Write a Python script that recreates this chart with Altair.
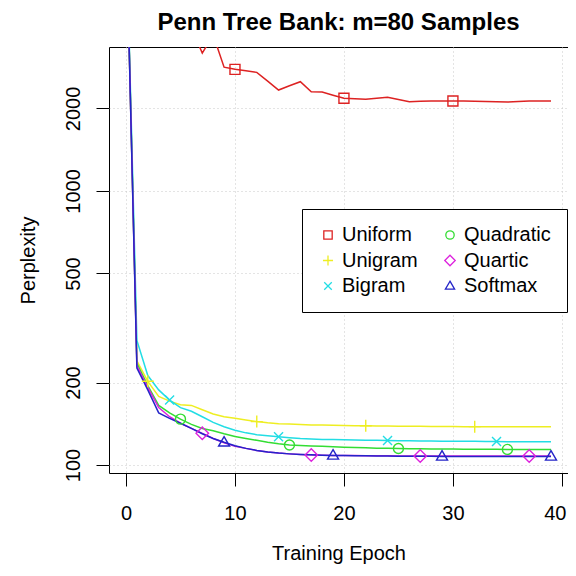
import altair as alt
import pandas as pd

# ---------------- data ----------------
epochs = list(range(40))

uniform = [10000, 6000, 5000, 4600, 4300, 4100, 3930, 3186, 3706, 2830,
           2778, 2745, 2709, 2517, 2335, 2420, 2504, 2302, 2295, 2235,
           2178, 2170, 2163, 2180, 2196, 2155, 2117, 2125, 2130, 2130,
           2130, 2128, 2125, 2120, 2115, 2110, 2120, 2130, 2130, 2130]
unigram = [10000, 240, 202, 178, 171, 166, 165, 159, 153.5, 150,
           148, 146, 144, 142.5, 141.5, 141, 140.5, 140, 140, 139.8,
           139.5, 139.2, 139, 138.8, 138.7, 138.6, 138.5, 138.4, 138.3, 138.2,
           138.1, 138, 138, 138, 138, 138, 138, 138, 138, 138]
bigram = [10000, 285, 212, 188, 172.6, 162, 157, 150, 143, 138,
          134, 131, 129, 127.8, 126.8, 125.8, 125, 124.5, 124, 123.8,
          123.6, 123.4, 123.2, 123, 122.8, 122.6, 122.5, 122.4, 122.3, 122.2,
          122.1, 122, 122, 121.9, 121.8, 121.7, 121.7, 121.6, 121.6, 121.6]
quadratic = [10000, 235, 195, 165, 155, 147, 140.7, 136, 133.4, 130,
             127, 125, 123, 121, 119.5, 118.3, 117.8, 117.3, 117, 116.6,
             116.2, 115.8, 115.5, 115.2, 115, 114.8, 114.7, 114.6, 114.5, 114.4,
             114.3, 114.2, 114.2, 114.1, 114.1, 114, 114, 114, 114, 114]
quartic = [10000, 230, 192, 162, 150, 142, 136, 130.5, 125, 120.5,
           117, 115, 113, 111.5, 110.5, 109.8, 109.2, 108.8, 108.6, 108.4,
           108.3, 108.2, 108.1, 108, 108, 107.9, 107.9, 107.8, 107.8, 107.8,
           107.8, 107.8, 107.8, 107.8, 107.8, 107.8, 107.8, 107.8, 107.8, 107.8]
softmax = [10000, 226, 188, 155, 148, 142, 136, 130, 125, 121,
           117.5, 115, 113, 111.5, 110.5, 109.8, 109.3, 108.9, 108.6, 108.4,
           108.2, 108.1, 108, 107.9, 107.8, 107.7, 107.7, 107.6, 107.6, 107.5,
           107.5, 107.5, 107.5, 107.5, 107.5, 107.5, 107.5, 107.5, 107.5, 107.5]

series_names = ["Uniform", "Unigram", "Bigram", "Quadratic", "Quartic", "Softmax"]
series_values = [uniform, unigram, bigram, quadratic, quartic, softmax]
series_colors = ["#DD2222", "#EEEE22", "#22DDE4", "#33DD33", "#DD22DD", "#2424C8"]
series_shapes = [
    "M-1,-1H1V1H-1Z",                 # square
    "M-1.2,0H1.2M0,-1.2V1.2",         # plus
    "M-0.9,-0.9L0.9,0.9M-0.9,0.9L0.9,-0.9",  # x
    "circle",                         # circle
    "M0,-1.25L1.25,0L0,1.25L-1.25,0Z",  # diamond
    "M0,-1.15L1.1,0.75H-1.1Z",        # triangle
]
marker_epochs = [
    [0, 10, 20, 30],
    [2, 12, 22, 32],
    [4, 14, 24, 34],
    [5, 15, 25, 35],
    [7, 17, 27, 37],
    [9, 19, 29, 39],
]
# legend is filled column by column: Uniform/Unigram/Bigram, then Quadratic/Quartic/Softmax
legend_order = ["Uniform", "Unigram", "Bigram", "Quadratic", "Quartic", "Softmax"]
line_order = ["Softmax", "Quartic", "Quadratic", "Bigram", "Unigram", "Uniform"]

x_ticks = [0, 10, 20, 30, 40]
y_ticks = [100, 200, 500, 1000, 2000]

# ---------------- tables ----------------
rows = []
pts = []
for name, vals, mk in zip(series_names, series_values, marker_epochs):
    for e, v in zip(epochs, vals):
        rows.append({"series": name, "epoch": e, "perplexity": v})
        if e in mk:
            pts.append({"series": name, "epoch": e, "perplexity": v})
df = pd.DataFrame(rows)
df_pts = pd.DataFrame(pts)

color_map = dict(zip(series_names, series_colors))
shape_map = dict(zip(series_names, series_shapes))
cscale = alt.Scale(domain=legend_order, range=[color_map[n] for n in legend_order])
sscale = alt.Scale(domain=legend_order, range=[shape_map[n] for n in legend_order])
# separate (legend-less) stroke scale for the lines, with its own domain order
line_scale = alt.Scale(domain=line_order, range=[color_map[n] for n in line_order])

FONT = "Liberation Sans"

xscale = alt.Scale(domain=[-1.56, 40.56], nice=False, zero=False)
yscale = alt.Scale(type="log", domain=[93.5, 3352], nice=False)

xaxis = alt.Axis(values=x_ticks, format="d", title="Training Epoch",
                 domain=False, tickSize=13, tickColor="black", tickWidth=1,
                 labelFontSize=20, labelColor="black", labelFont=FONT,
                 labelBaseline="middle", labelPadding=27,
                 labelFlush=8, labelFlushOffset=4,
                 grid=True, gridColor="#C8C8C8", gridDash=[1, 3], gridWidth=1,
                 titleFontSize=20, titleFontWeight="normal", titleFont=FONT,
                 titleColor="black", titleY=80, titleBaseline="middle")
yaxis = alt.Axis(values=y_ticks, format="d", title="Perplexity",
                 domain=False, tickSize=13, tickColor="black", tickWidth=1,
                 labelFontSize=20, labelColor="black", labelFont=FONT,
                 labelAngle=270, labelAlign="center", labelBaseline="middle",
                 labelPadding=23, labelFlush=False, labelOverlap=False,
                 grid=True, gridColor="#C8C8C8", gridDash=[1, 3], gridWidth=1,
                 titleFontSize=20, titleFontWeight="normal", titleFont=FONT,
                 titleColor="black", titleAngle=270, titleX=-81, titleY=213,
                 titleAlign="center", titleBaseline="middle")

legend = alt.Legend(title=None, orient="none", legendX=193, legendY=162,
                    columns=2, strokeColor="black", fillColor="white",
                    padding=16, labelFontSize=20, labelFont=FONT,
                    labelColor="black", labelLimit=0, labelOffset=4,
                    columnPadding=22, rowPadding=5.5, symbolSize=70,
                    symbolStrokeWidth=1.3, cornerRadius=0)

lines = alt.Chart(df).mark_line(strokeWidth=1.5, clip=True).encode(
    x=alt.X("epoch:Q", scale=xscale, axis=xaxis),
    y=alt.Y("perplexity:Q", scale=yscale, axis=yaxis),
    stroke=alt.Stroke("series:N", scale=line_scale, legend=None),
)

points = alt.Chart(df_pts).mark_point(filled=False, size=100, strokeWidth=1.4,
                                      opacity=1, clip=True).encode(
    x=alt.X("epoch:Q", scale=xscale, axis=xaxis),
    y=alt.Y("perplexity:Q", scale=yscale, axis=yaxis),
    color=alt.Color("series:N", scale=cscale, legend=legend),
    shape=alt.Shape("series:N", scale=sscale, legend=legend),
)

chart = alt.layer(lines, points).properties(
    width=459, height=426,
    title=alt.TitleParams("Penn Tree Bank: m=80 Samples", fontSize=24,
                          font=FONT, fontWeight="bold", anchor="middle",
                          frame="group", offset=12, color="black"),
    autosize=alt.AutoSizeParams(type="none"),
    padding={"left": 101, "top": 39, "right": 0, "bottom": 91},
    background="white",
).configure_view(stroke="black", strokeWidth=1)

chart.save("out.html", embed_options={"renderer": "svg", "actions": False})
